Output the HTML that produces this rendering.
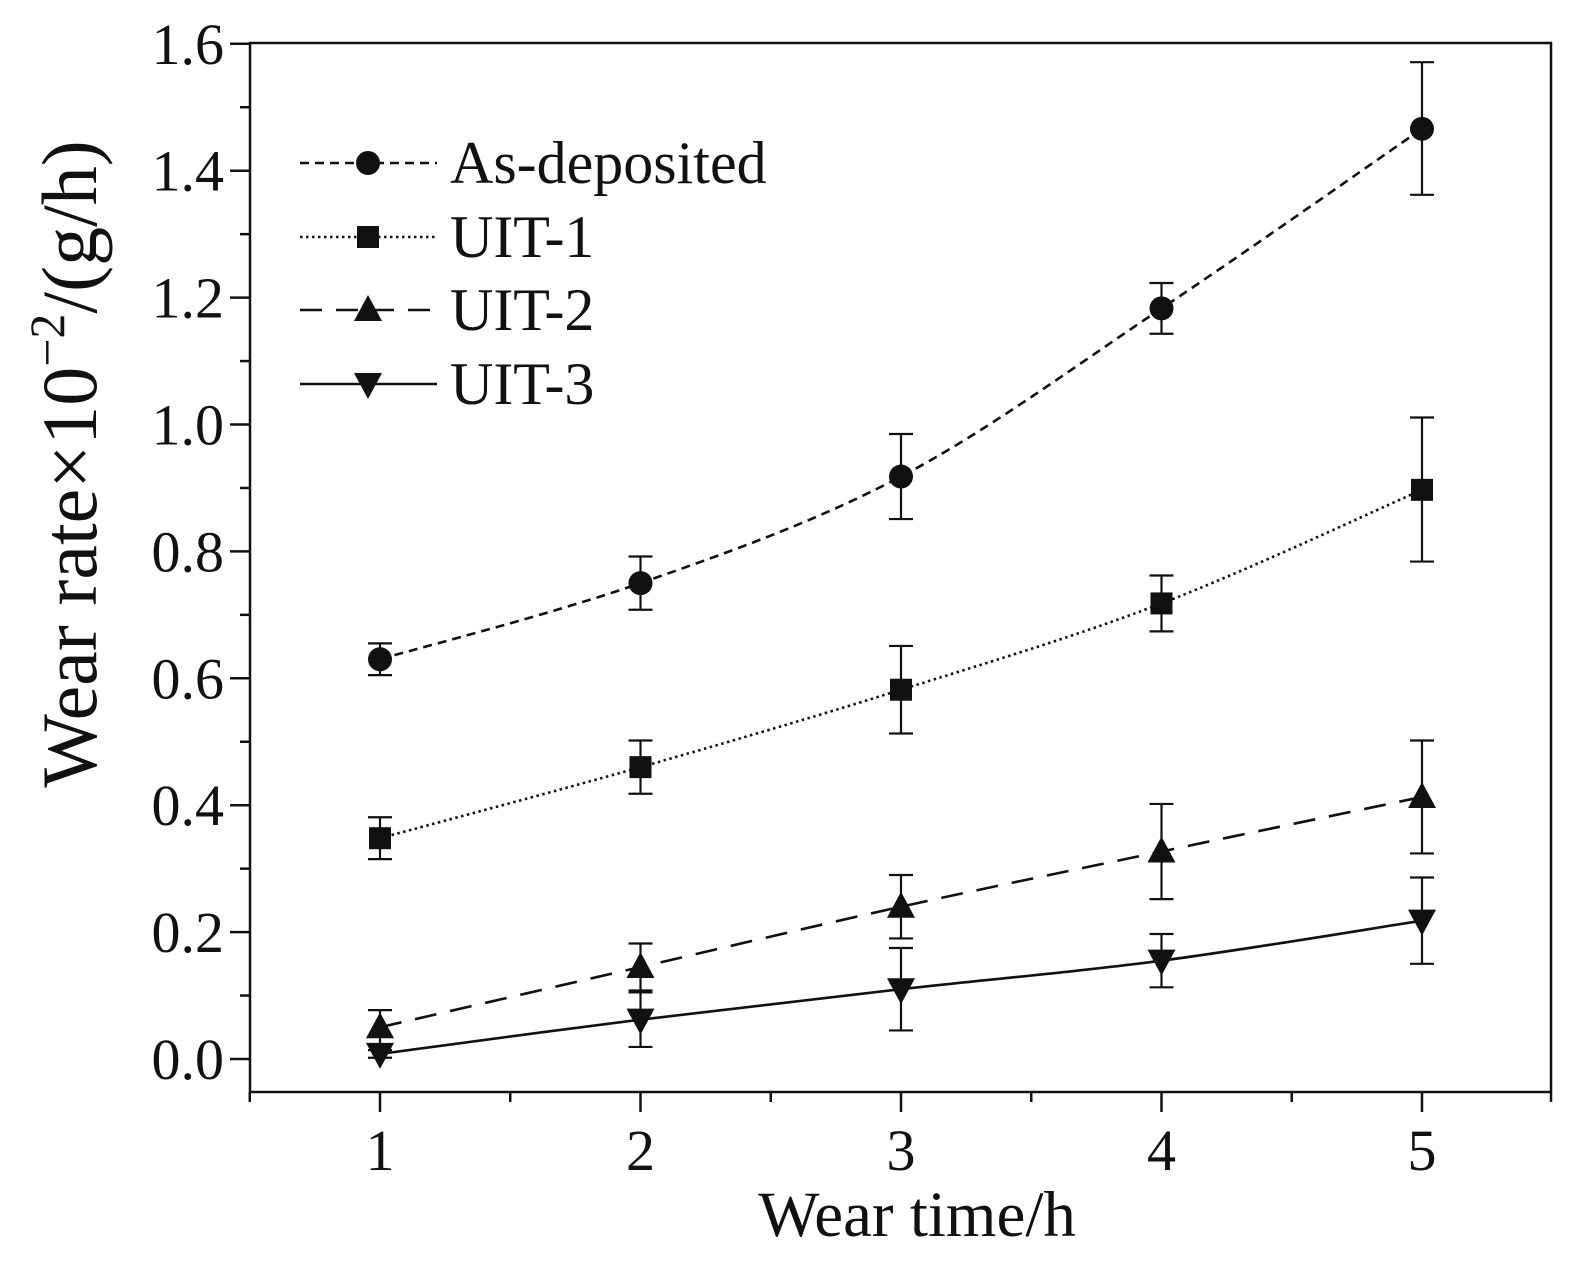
<!DOCTYPE html>
<html><head><meta charset="utf-8"><style>
html,body{margin:0;padding:0;background:#fff}
svg{display:block}
text{font-family:"Liberation Serif",serif;fill:#111}
</style></head><body>
<svg id="s" width="1579" height="1270" viewBox="0 0 1579 1270" xmlns="http://www.w3.org/2000/svg">
<g id="g"></g>
<text x="917" y="1236" font-size="65" text-anchor="middle">Wear time/h</text>
<text transform="translate(96,464) rotate(-90)" font-size="78" text-anchor="middle">Wear rate×10<tspan dy="-32" font-size="50">−2</tspan><tspan dy="32">/(g/h)</tspan></text>
<g font-size="60">
<text x="450" y="183">As-deposited</text>
<text x="450" y="257">UIT-1</text>
<text x="450" y="330">UIT-2</text>
<text x="450" y="404">UIT-3</text>
</g>
</svg>
<script>
const NS="http://www.w3.org/2000/svg",g=document.getElementById('g');
function el(t,a){const e=document.createElementNS(NS,t);for(const k in a)e.setAttribute(k,a[k]);g.appendChild(e);return e;}
const X=v=>380+(v-1)*260.5, Y=v=>1059-v*634.5;
let L=250,R=1551,T=43,B=1092;
el('rect',{x:L,y:T,width:R-L,height:B-T,fill:'none',stroke:'#111','stroke-width':2.5});
for(let i=0;i<=16;i++){const v=i*0.1,y=Y(v),maj=i%2==0;el('line',{x1:L-(maj?20:10),x2:L,y1:y,y2:y,stroke:'#111','stroke-width':2.5});
 if(maj){const t=el('text',{x:224,y:y+20,'font-size':58,'text-anchor':'end'});t.textContent=v.toFixed(1);}}
for(let i=0;i<=10;i++){const v=0.5+i*0.5,x=X(v);if(x<L-1||x>R+1)continue;const maj=Math.abs(v-Math.round(v))<1e-6;
 el('line',{x1:x,x2:x,y1:B,y2:B+(maj?20:10),stroke:'#111','stroke-width':2.5});
 if(maj){const t=el('text',{x:x,y:1170,'font-size':58,'text-anchor':'middle'});t.textContent=v;}}
el('line',{x1:R,x2:R,y1:B,y2:B+10,stroke:'#111','stroke-width':2.5});
const S=[
 {d:[[.63,.025,.025],[.75,.042,.042],[.918,.067,.067],[1.183,.04,.04],[1.466,.105,.104]],m:'c',dash:'9,6'},
 {d:[[.348,.033,.033],[.46,.042,.042],[.582,.069,.069],[.718,.044,.044],[.897,.114,.113]],m:'s',dash:'2.5,3.5'},
 {d:[[.05,.027,.027],[.145,.037,.037],[.24,.05,.05],[.327,.075,.075],[.413,.089,.089]],m:'u',dash:'22,14'},
 {d:[[.008,.006,.006],[.062,.043,.043],[.11,.065,.065],[.155,.042,.042],[.218,.068,.068]],m:'d',dash:''}];
function marker(m,x,y){
 if(m=='c')el('circle',{cx:x,cy:y,r:12,fill:'#111'});
 else if(m=='s')el('rect',{x:x-11,y:y-11,width:22,height:22,fill:'#111'});
 else if(m=='u')el('polygon',{points:`${x},${y-15} ${x-14},${y+11} ${x+14},${y+11}`,fill:'#111'});
 else el('polygon',{points:`${x},${y+15} ${x-14},${y-11} ${x+14},${y-11}`,fill:'#111'});
}
S.forEach((s,si)=>{
 const p=s.d.map((d,i)=>[X(i+1),Y(d[0])]);
 let path=`M${p[0][0]},${p[0][1]}`;
 for(let i=0;i<p.length-1;i++){const p0=p[Math.max(0,i-1)],p1=p[i],p2=p[i+1],p3=p[Math.min(p.length-1,i+2)];
  path+=` C${p1[0]+(p2[0]-p0[0])/6},${p1[1]+(p2[1]-p0[1])/6} ${p2[0]-(p3[0]-p1[0])/6},${p2[1]-(p3[1]-p1[1])/6} ${p2[0]},${p2[1]}`;}
 el('path',{d:path,fill:'none',stroke:'#111','stroke-width':2.6,'stroke-dasharray':s.dash});
 s.d.forEach((d,i)=>{const x=X(i+1),y1=Y(d[0]+d[1]),y2=Y(d[0]-d[2]);
  el('line',{x1:x,x2:x,y1:y1,y2:y2,stroke:'#111','stroke-width':2.2});
  el('line',{x1:x-12,x2:x+12,y1:y1,y2:y1,stroke:'#111','stroke-width':2.2});
  el('line',{x1:x-12,x2:x+12,y1:y2,y2:y2,stroke:'#111','stroke-width':2.2});
  marker(s.m,x,Y(d[0]));});
 const ly=[163,237,310,384][si];
 el('line',{x1:300,x2:437,y1:ly,y2:ly,stroke:'#111','stroke-width':2.6,'stroke-dasharray':s.dash});
 marker(s.m,368,ly);
});
</script>
</body></html>
